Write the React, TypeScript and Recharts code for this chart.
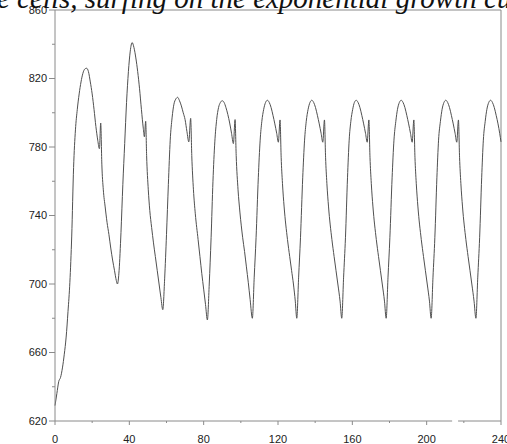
import { LineChart, Line, XAxis, YAxis, ReferenceLine } from 'recharts';

// time points and cell counts
const times = [
  0, 1, 2, 3, 4, 5, 6, 7, 8, 9, 10, 11, 12, 13, 14, 15, 16, 17, 18, 19, 20, 21, 22, 23, 23.9, 24.6, 25.2, 26, 27, 28,
  29, 30, 31, 32, 33, 33.6, 34.5, 35.5, 36.5, 37.5, 38.5, 39.5, 40.5, 41.5, 42.5, 43.5, 44.5, 45.5, 46.5, 47.5, 48.1,
  48.8, 49.3, 50.2, 51, 52, 53, 54, 55, 56, 57, 58, 59, 60, 61, 62, 63, 64, 65, 66, 67, 68, 69, 70, 71, 72, 73, 73.6,
  74.5, 75.5, 77, 78, 79, 80, 81, 82, 83, 84, 85, 86, 87, 88, 89, 90, 91, 92, 93, 94, 95, 96, 96.9, 97.5, 98.5, 99.5,
  101, 102, 103, 104, 105, 106.2,
  107.2, 108.2, 109.4, 110.4, 111.3, 112.3, 113.3, 114.3, 115.3, 116.3, 117.3, 118.3, 119.3, 120.2, 121.1, 121.7, 122.4,
  123.3, 125.1, 126.3, 127.3, 128.3, 129.3, 130.1,
  131.1, 132.1, 133.3, 134.3, 135.2, 136.2, 137.2, 138.2, 139.2, 140.2, 141.2, 142.2, 143.2, 144.1, 145, 145.6, 146.3,
  147.2, 149, 150.2, 151.2, 152.2, 153.4, 154.3,
  155.3, 156.3, 157.4, 158.3, 159.2, 160.2, 161.1, 162.1, 163.1, 164.1, 165.1, 166.1, 167.1, 168, 168.9, 169.5, 170.2,
  171.1, 172.9, 174.1, 175.1, 176.1, 177.3, 178.2,
  179.2, 180.2, 181.4, 182.4, 183.4, 184.3, 185.3, 186.3, 187.3, 188.3, 189.3, 190.3, 191.3, 192.2, 193.1, 193.7, 194.4,
  195.3, 197.1, 198.3, 199.3, 200.3, 201.5, 202.4,
  203.4, 204.4, 205.5, 206.4, 207.4, 208.3, 209.3, 210.3, 211.3, 212.3, 213.3, 214.3, 215.3, 216.2, 217.1, 217.7, 218.4,
  219.3, 221.1, 222.3, 223.3, 224.3, 225.5, 226.5,
  227.5, 228.5, 229.6, 230.5, 231.5, 232.4, 233.4, 234.4, 235.4, 236.4, 237.4, 238.4, 239.3, 240,
];

const cellCounts = [
  629, 636, 643, 645.5, 651, 659, 669, 684, 701, 728, 768, 790, 802, 811, 818, 823, 825.5, 826, 824, 818, 811, 802, 792,
  784, 779, 794, 770, 755, 745, 736,
  729, 721, 714, 708, 702, 700, 708, 730, 758, 782, 806, 824, 836, 841, 838, 832, 824, 814, 802, 791, 786,
  795, 775, 755, 743, 733, 724, 716, 708, 700, 692, 685, 703, 729, 758, 784, 797, 805, 808, 809, 807, 804, 800, 796, 789,
  783, 796.7, 775,
  755, 741, 726, 716, 706, 697, 688, 679, 700, 727, 760, 783, 796, 803, 806, 807, 806, 803, 799, 794, 788, 782, 796, 775,
  755, 742,
  727, 719, 710, 701, 691, 680,
  704, 727, 762, 784, 795, 802, 806, 807.3, 806, 803, 798.5, 793.5, 788, 782.8, 795.8, 774, 758.8,
  745, 726, 716, 708, 700, 690, 680,
  704, 727, 762, 784, 795, 802, 806, 807.3, 806, 803, 798.5, 793.5, 788, 782.8, 795.8, 774, 758.8,
  745, 726, 716, 708, 700, 690, 680,
  704, 727, 762, 784, 795, 802, 806, 807.3, 806, 803, 798.5, 793.5, 788, 782.8, 795.8, 774, 758.8,
  745, 726, 716, 708, 700, 690, 680,
  704, 727, 762, 784, 795, 802, 806, 807.3, 806, 803, 798.5, 793.5, 788, 782.8, 795.8, 774, 758.8,
  745, 726, 716, 708, 700, 690, 680,
  704, 727, 762, 784, 795, 802, 806, 807.3, 806, 803, 798.5, 793.5, 788, 782.8, 795.8, 774, 758.8,
  745, 726, 716, 708, 700, 690, 680,
  704, 727, 762, 784, 795, 802, 806, 807.3, 806, 803, 798.5, 793.5, 788, 783,
];

const xTicks = [0, 20, 40, 60, 80, 100, 120, 140, 160, 180, 200, 220, 240];
const yTicks = [620, 640, 660, 680, 700, 720, 740, 760, 780, 800, 820, 840, 860];
const title = 'e cells, surfing on the exponential growth curve';

const data = times.map((t, i) => ({ t, n: cellCounts[i] }));

const AXIS = '#8a8a8a';
const LABEL_FONT = '"Liberation Sans Narrow", "Liberation Sans", Arial, sans-serif';

function YTick({ x, y, payload }: any) {
  const major = (payload.value - 620) % 40 === 0;
  return (
    <g>
      <line x1={x - (major ? 6 : 3)} x2={x} y1={y} y2={y} stroke={AXIS} />
      {major && (
        <text x={x - 8} y={y} dy="0.36em" textAnchor="end" fontSize={11} fontFamily={LABEL_FONT} fill="#222">
          {payload.value}
        </text>
      )}
    </g>
  );
}

function XTick({ x, y, payload }: any) {
  const major = payload.value % 40 === 0;
  return (
    <g>
      <line x1={x} x2={x} y1={y} y2={y + (major ? 4 : 2)} stroke={AXIS} />
      {major && (
        <text x={x} y={y + 22} textAnchor="middle" fontSize={11} fontFamily={LABEL_FONT} fill="#222">
          {payload.value}
        </text>
      )}
    </g>
  );
}

export default function App() {
  return (
    <div style={{ position: 'absolute', left: 0, top: 0, width: 507, height: 444, overflow: 'hidden', background: '#fff' }}>
      <LineChart width={507} height={444} data={data} margin={{ top: 10, right: 6, bottom: 0, left: 0 }}>
        <XAxis
          dataKey="t"
          type="number"
          domain={[0, 240]}
          ticks={xTicks}
          interval={0}
          axisLine={false}
          tickLine={false}
          tickSize={0}
          tickMargin={0}
          height={23}
          tick={<XTick />}
        />
        <YAxis
          type="number"
          domain={[620, 860]}
          ticks={yTicks}
          interval={0}
          axisLine={{ stroke: AXIS }}
          tickLine={false}
          tickSize={0}
          tickMargin={0}
          width={55}
          tick={<YTick />}
        />
        <ReferenceLine y={860} stroke={AXIS} ifOverflow="visible" />
        <ReferenceLine x={240} stroke={AXIS} ifOverflow="visible" />
        <ReferenceLine segment={[{ x: 0, y: 620 }, { x: 213.7, y: 620 }]} stroke={AXIS} ifOverflow="visible" />
        <ReferenceLine segment={[{ x: 216.9, y: 620 }, { x: 240, y: 620 }]} stroke={AXIS} ifOverflow="visible" />
        <Line
          dataKey="n"
          type="monotone"
          stroke="#505050"
          strokeWidth={1}
          dot={false}
          isAnimationActive={false}
        />
      </LineChart>
      <svg width={507} height={444} style={{ position: 'absolute', left: 0, top: 0, pointerEvents: 'none' }}>
        <text
          x={-3}
          y={7.5}
          fontFamily='"Liberation Serif", "Times New Roman", serif'
          fontStyle="italic"
          fontSize={29}
          fill="#111"
        >
          {title}
        </text>
      </svg>
    </div>
  );
}
